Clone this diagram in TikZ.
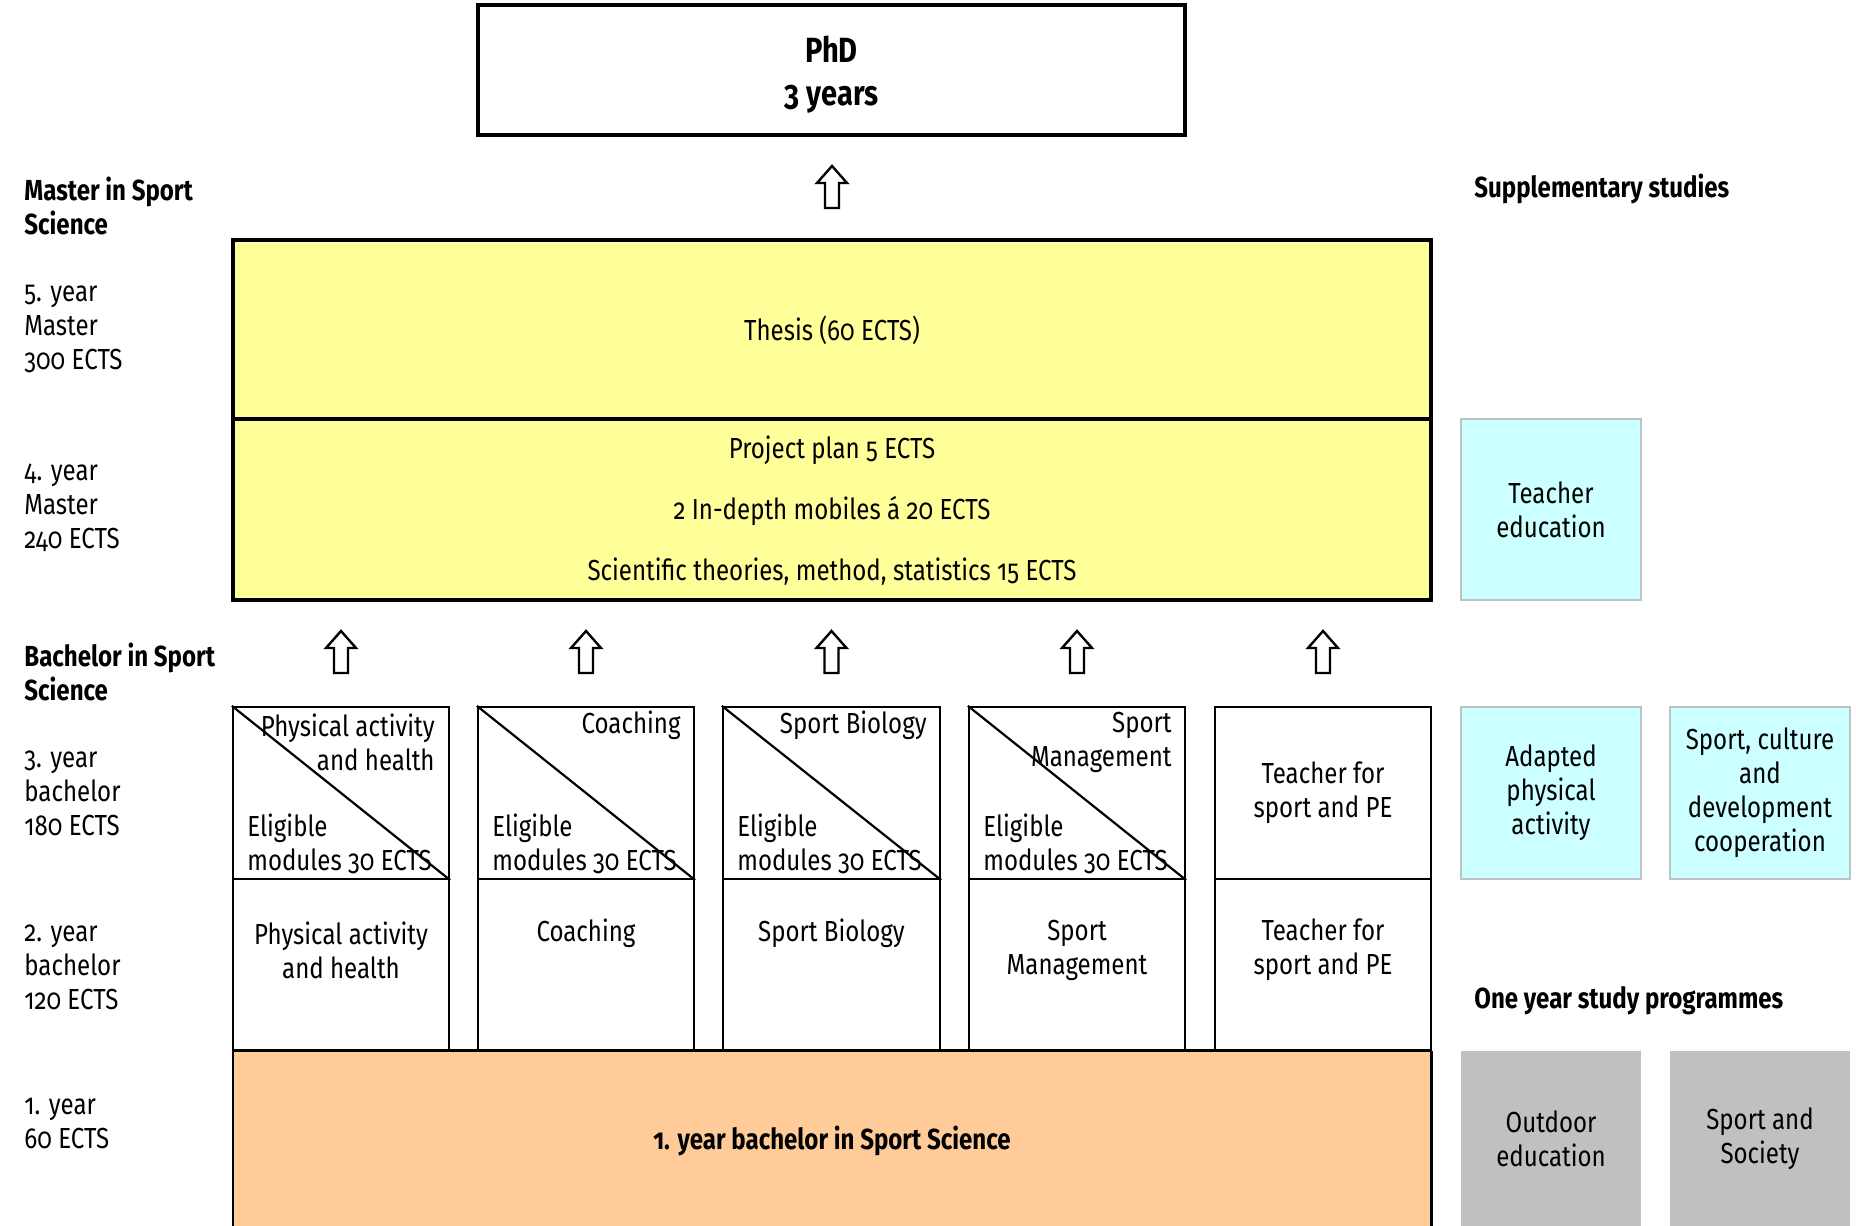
\documentclass[tikz,border=0pt]{standalone}
\usepackage{fontspec}
\setmainfont{Fira Sans}[FakeStretch=0.83,Numbers=OldStyle]
\usetikzlibrary{fit}
\definecolor{ylw}{HTML}{FFFF99}
\definecolor{cyn}{HTML}{CCFFFF}
\definecolor{gry}{HTML}{C0C0C0}
\definecolor{org}{HTML}{FFCC99}
\definecolor{cynline}{HTML}{BCC4C4}
\tikzset{
  txt/.style={font=\fontsize{14.5}{17}\selectfont, inner sep=0pt},
  hdr/.style={txt, font=\fontsize{14.5}{17}\selectfont\bfseries, align=left, anchor=west},
  side/.style={txt, align=left, anchor=west},
  ctr/.style={txt, align=center},
  thickbox/.style={draw=black, line width=1.6pt, inner sep=0pt},
  yellowbox/.style={thickbox, fill=ylw},
  cell/.style={draw=black, line width=1.1pt, fill=white, inner sep=0pt},
  cyanbox/.style={fill=cyn, draw=cynline, line width=1.1pt, inner sep=0pt},
  graybox/.style={fill=gry, inner sep=0pt},
  uparrow/.pic={\draw[line width=1.2pt, fill=white, line join=miter]
     (0,0) -- (-15,17) -- (-7,17) -- (-7,42) -- (7,42) -- (7,17) -- (15,17) -- cycle;}
}
\begin{document}
\begin{tikzpicture}[x=0.5pt,y=-0.5pt]
\useasboundingbox (0,0) rectangle (1856,1225);
\fill[white] (0,0) rectangle (1856,1225);

% PhD
\node[thickbox, fit={(478,5) (1185,135)}] (phd) {};
\node[ctr, font=\fontsize{17.5}{21.5}\selectfont\bfseries] (phdt) at (831.5,75) {PhD\\3 years};
\pic at (832,166) {uparrow};

% Master
\node[yellowbox, fit={(233,240) (1431,419)}] (thesis) {};
\node[ctr] (thesist) at (832,330) {Thesis (60 ECTS)};
\node[yellowbox, fit={(233,419) (1431,600)}] (fourth) {};
\node[ctr] (p1) at (832,450) {Project plan 5 ECTS};
\node[ctr] (p2) at (832,511) {2 In-depth mobiles á 20 ECTS};
\node[ctr] (p3) at (832,572) {Scientific theories, method, statistics 15 ECTS};

% arrows to master
\foreach \x in {341,586,831.5,1077,1323} { \pic at (\x,631) {uparrow}; }

% bachelor columns
\foreach \i/\l/\r in {1/233/449, 2/478/694, 3/723/940, 4/969/1185, 5/1215/1431} {
  \node[cell, fit={(\l,707) (\r,879)}] (t\i) {};
  \node[cell, fit={(\l,879) (\r,1051)}] (s\i) {};
}
\foreach \i in {1,2,3,4} { \draw[line width=1.1pt] (t\i.north west) -- (t\i.south east); }

\node[ctr, align=right, anchor=east] (t1h) at (435,742) {Physical activity\\and health};
\node[ctr, align=right, anchor=east] (t2h) at (681,725) {Coaching};
\node[ctr, align=right, anchor=east] (t3h) at (927,725) {Sport Biology};
\node[ctr, align=right, anchor=east] (t4h) at (1172,742) {Sport\\Management};
\foreach \i/\l in {1/233, 2/478, 3/723, 4/969} {
  \node[side] (t\i e) at (\l+14,844) {Eligible\\modules 30 ECTS};
}
\node[ctr] (t5h) at (t5.center) {Teacher for\\sport and PE};

\node[ctr] (s1h) at (341,950) {Physical activity\\and health};
\node[ctr] (s2h) at (586,933) {Coaching};
\node[ctr] (s3h) at (831.5,933) {Sport Biology};
\node[ctr] (s4h) at (1077,950) {Sport\\Management};
\node[ctr] (s5h) at (1323,950) {Teacher for\\sport and PE};

% first year
\node[fill=org, inner sep=0pt, fit={(233,1051) (1431,1226)}] (first) {};
\draw[line width=1.1pt] (first.south west) -- (first.north west);
\draw[line width=1.1pt] (first.south east) -- (first.north east);
\draw[line width=1.6pt] (first.north west) -- (first.north east);
\node[ctr, font=\fontsize{14.5}{17}\selectfont\bfseries] (firstt) at (832,1141) {1. year bachelor in Sport Science};

% supplementary
\node[cyanbox, fit={(1461,419) (1641,600)}] (teach) {};
\node[ctr] at (teach.center) (teacht) {Teacher\\education};
\node[cyanbox, fit={(1461,707) (1641,879)}] (adapt) {};
\node[ctr] at (adapt.center) (adaptt) {Adapted\\physical\\activity};
\node[cyanbox, fit={(1670,707) (1850,879)}] (cult) {};
\node[ctr] at (cult.center) (cultt) {Sport, culture\\and\\development\\cooperation};
\node[graybox, fit={(1461,1051) (1641,1226)}] (outd) {};
\node[ctr] at (outd.center) (outdt) {Outdoor\\education};
\node[graybox, fit={(1670,1051) (1850,1226)}] (soc) {};
\node[ctr] at (soc.center) (soct) {Sport and\\Society};

% left labels
\node[hdr] (mhdr) at (24,206) {Master in Sport\\Science};
\node[side] (y5) at (24,329) {5. year\\Master\\300 ECTS};
\node[side] (y4) at (24,508) {4. year\\Master\\240 ECTS};
\node[hdr] (bhdr) at (24,672) {Bachelor in Sport\\Science};
\node[side] (y3) at (24,793) {3. year\\bachelor\\180 ECTS};
\node[side] (y2) at (24,967) {2. year\\bachelor\\120 ECTS};
\node[side] (y1) at (24,1123) {1. year\\60 ECTS};
\node[hdr] (shdr) at (1474,189) {Supplementary studies};
\node[hdr] (ohdr) at (1474,1001) {One year study programmes};
\end{tikzpicture}
\end{document}
